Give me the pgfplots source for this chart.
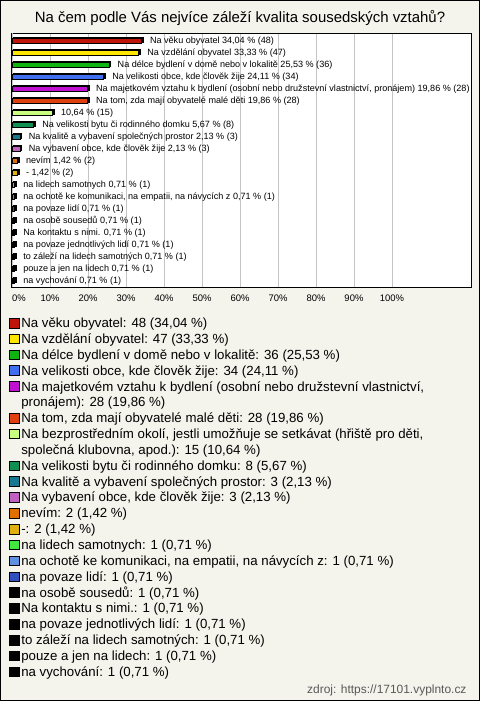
\documentclass[border=0pt]{standalone}
\usepackage{pgfplots}
\pgfplotsset{compat=1.18}
\usepackage{fontspec}
\setmainfont{Liberation Sans}
\definecolor{bgc}{RGB}{244,243,236}
\definecolor{c1}{RGB}{190,20,10}
\definecolor{c2}{RGB}{255,230,0}
\definecolor{c3}{RGB}{16,180,16}
\definecolor{c4}{RGB}{64,112,240}
\definecolor{c5}{RGB}{192,16,208}
\definecolor{c6}{RGB}{224,64,16}
\definecolor{c7}{RGB}{200,255,128}
\definecolor{c8}{RGB}{16,144,80}
\definecolor{c9}{RGB}{24,120,144}
\definecolor{c10}{RGB}{192,96,192}
\definecolor{c11}{RGB}{224,112,0}
\definecolor{c12}{RGB}{224,176,16}
\definecolor{c13}{RGB}{64,232,64}
\definecolor{c14}{RGB}{96,144,224}
\definecolor{c15}{RGB}{48,80,192}
\definecolor{c16}{RGB}{0,0,0}
\definecolor{gridc}{RGB}{196,196,196}
\newcommand{\ls}{\rule[-3.85bp]{0pt}{15.85bp}}
\pgfplotsset{
  sq/.style={legend image code/.code={\draw[fill=#1, draw=black, line width=0.8bp] (0bp,-0.3bp) rectangle (9.3bp,9.3bp);}},
  b3d/.style={fill=#1, preaction={fill=black, draw=black, transform canvas={xshift=1.6bp, yshift=1.6bp}}},
}
\begin{document}
\begin{tikzpicture}
\fill[bgc] (0,0) rectangle (480bp,701bp);
\node[anchor=base, font=\fontsize{15}{18}\selectfont] at (240bp,678.6bp) {Na čem podle Vás nejvíce záleží kvalita sousedských vztahů?};
\node[anchor=base east, font=\fontsize{12}{14}\selectfont, text=black!65] at (470bp,7.8bp) {zdroj: https://17101.vyplnto.cz};
\begin{axis}[
  at={(11bp,414bp)}, anchor=south west,
  scale only axis, width=460bp, height=254bp,
  xmin=-0.26, xmax=120.8, ymin=-0.667, ymax=20.5, y dir=reverse,
  xbar, bar width=5bp, bar shift=0pt,
  clip=false,
  axis background/.style={fill=white},
  axis line style={black, line width=0.9bp},
  ytick=\empty,
  xtick={10,20,...,100},
  xticklabels={10\%,20\%,30\%,40\%,50\%,60\%,70\%,80\%,90\%,100\%},
  extra x ticks={0},
  extra x tick labels={0\%},
  extra x tick style={xticklabel style={anchor=north west, xshift=-3.3bp}},
  major tick length=0pt,
  xmajorgrids,
  grid style={draw=gridc, line width=0.9bp},
  xticklabel style={font=\fontsize{9.5}{10}\selectfont, yshift=-4bp},
  every axis plot/.append style={draw=black, line width=0.8bp, forget plot},
  every node near coord/.append style={anchor=west, xshift=5bp, text=black, font=\fontsize{9.1}{10}\selectfont},
  legend cell align=left,
  legend style={at={(-0.0043,-0.1118)}, anchor=north west, draw=none, fill=none, inner sep=0pt,
    row sep=0pt, column sep=2bp, font=\fontsize{13.3}{15.85}\selectfont,
    nodes={inner sep=0pt, text depth=3.85bp},
    cells={anchor=base west}},
]
\addplot[b3d=c1, nodes near coords={Na věku obyvatel 34,04 \% (48)}] coordinates {(34.04,0)};
\addplot[b3d=c2, nodes near coords={Na vzdělání obyvatel 33,33 \% (47)}] coordinates {(33.33,1)};
\addplot[b3d=c3, nodes near coords={Na délce bydlení v domě nebo v lokalitě 25,53 \% (36)}] coordinates {(25.53,2)};
\addplot[b3d=c4, nodes near coords={Na velikosti obce, kde člověk žije 24,11 \% (34)}] coordinates {(24.11,3)};
\addplot[b3d=c5, nodes near coords={Na majetkovém vztahu k bydlení (osobní nebo družstevní vlastnictví, pronájem) 19,86 \% (28)}] coordinates {(19.86,4)};
\addplot[b3d=c6, nodes near coords={Na tom, zda mají obyvatelé malé děti 19,86 \% (28)}] coordinates {(19.86,5)};
\addplot[b3d=c7, nodes near coords={10,64 \% (15)}] coordinates {(10.64,6)};
\addplot[b3d=c8, nodes near coords={Na velikosti bytu či rodinného domku 5,67 \% (8)}] coordinates {(5.67,7)};
\addplot[b3d=c9, nodes near coords={Na kvalitě a vybavení společných prostor 2,13 \% (3)}] coordinates {(2.13,8)};
\addplot[b3d=c10, nodes near coords={Na vybavení obce, kde člověk žije 2,13 \% (3)}] coordinates {(2.13,9)};
\addplot[b3d=c11, nodes near coords={nevím 1,42 \% (2)}] coordinates {(1.42,10)};
\addplot[b3d=c12, nodes near coords={- 1,42 \% (2)}] coordinates {(1.42,11)};
\addplot[b3d=c13, nodes near coords={na lidech samotnych 0,71 \% (1)}] coordinates {(0.71,12)};
\addplot[b3d=c14, nodes near coords={na ochotě ke komunikaci, na empatii, na návycích z 0,71 \% (1)}] coordinates {(0.71,13)};
\addplot[b3d=c15, nodes near coords={na povaze lidí 0,71 \% (1)}] coordinates {(0.71,14)};
\addplot[b3d=c16, nodes near coords={na osobě sousedů 0,71 \% (1)}] coordinates {(0.71,15)};
\addplot[b3d=c16, nodes near coords={Na kontaktu s nimi. 0,71 \% (1)}] coordinates {(0.71,16)};
\addplot[b3d=c16, nodes near coords={na povaze jednotlivých lidí 0,71 \% (1)}] coordinates {(0.71,17)};
\addplot[b3d=c16, nodes near coords={to záleží na lidech samotných 0,71 \% (1)}] coordinates {(0.71,18)};
\addplot[b3d=c16, nodes near coords={pouze a jen na lidech 0,71 \% (1)}] coordinates {(0.71,19)};
\addplot[b3d=c16, nodes near coords={na vychování 0,71 \% (1)}] coordinates {(0.71,20)};
\addlegendimage{sq=c1}\addlegendentry{\ls Na věku obyvatel: 48 (34,04 \%)}
\addlegendimage{sq=c2}\addlegendentry{\ls Na vzdělání obyvatel: 47 (33,33 \%)}
\addlegendimage{sq=c3}\addlegendentry{\ls Na délce bydlení v domě nebo v lokalitě: 36 (25,53 \%)}
\addlegendimage{sq=c4}\addlegendentry{\ls Na velikosti obce, kde člověk žije: 34 (24,11 \%)}
\addlegendimage{sq=c5}\addlegendentry{\ls Na majetkovém vztahu k bydlení (osobní nebo družstevní vlastnictví,}
\addlegendimage{empty legend}\addlegendentry{\ls pronájem): 28 (19,86 \%)}
\addlegendimage{sq=c6}\addlegendentry{\ls Na tom, zda mají obyvatelé malé děti: 28 (19,86 \%)}
\addlegendimage{sq=c7}\addlegendentry{\ls Na bezprostředním okolí, jestli umožňuje se setkávat (hřiště pro děti,}
\addlegendimage{empty legend}\addlegendentry{\ls společná klubovna, apod.): 15 (10,64 \%)}
\addlegendimage{sq=c8}\addlegendentry{\ls Na velikosti bytu či rodinného domku: 8 (5,67 \%)}
\addlegendimage{sq=c9}\addlegendentry{\ls Na kvalitě a vybavení společných prostor: 3 (2,13 \%)}
\addlegendimage{sq=c10}\addlegendentry{\ls Na vybavení obce, kde člověk žije: 3 (2,13 \%)}
\addlegendimage{sq=c11}\addlegendentry{\ls nevím: 2 (1,42 \%)}
\addlegendimage{sq=c12}\addlegendentry{\ls -: 2 (1,42 \%)}
\addlegendimage{sq=c13}\addlegendentry{\ls na lidech samotnych: 1 (0,71 \%)}
\addlegendimage{sq=c14}\addlegendentry{\ls na ochotě ke komunikaci, na empatii, na návycích z: 1 (0,71 \%)}
\addlegendimage{sq=c15}\addlegendentry{\ls na povaze lidí: 1 (0,71 \%)}
\addlegendimage{sq=c16}\addlegendentry{\ls na osobě sousedů: 1 (0,71 \%)}
\addlegendimage{sq=c16}\addlegendentry{\ls Na kontaktu s nimi.: 1 (0,71 \%)}
\addlegendimage{sq=c16}\addlegendentry{\ls na povaze jednotlivých lidí: 1 (0,71 \%)}
\addlegendimage{sq=c16}\addlegendentry{\ls to záleží na lidech samotných: 1 (0,71 \%)}
\addlegendimage{sq=c16}\addlegendentry{\ls pouze a jen na lidech: 1 (0,71 \%)}
\addlegendimage{sq=c16}\addlegendentry{\ls na vychování: 1 (0,71 \%)}
\end{axis}
\draw[black, line width=1bp] (0.5bp,0.5bp) rectangle (479.5bp,700.5bp);
\end{tikzpicture}
\end{document}
